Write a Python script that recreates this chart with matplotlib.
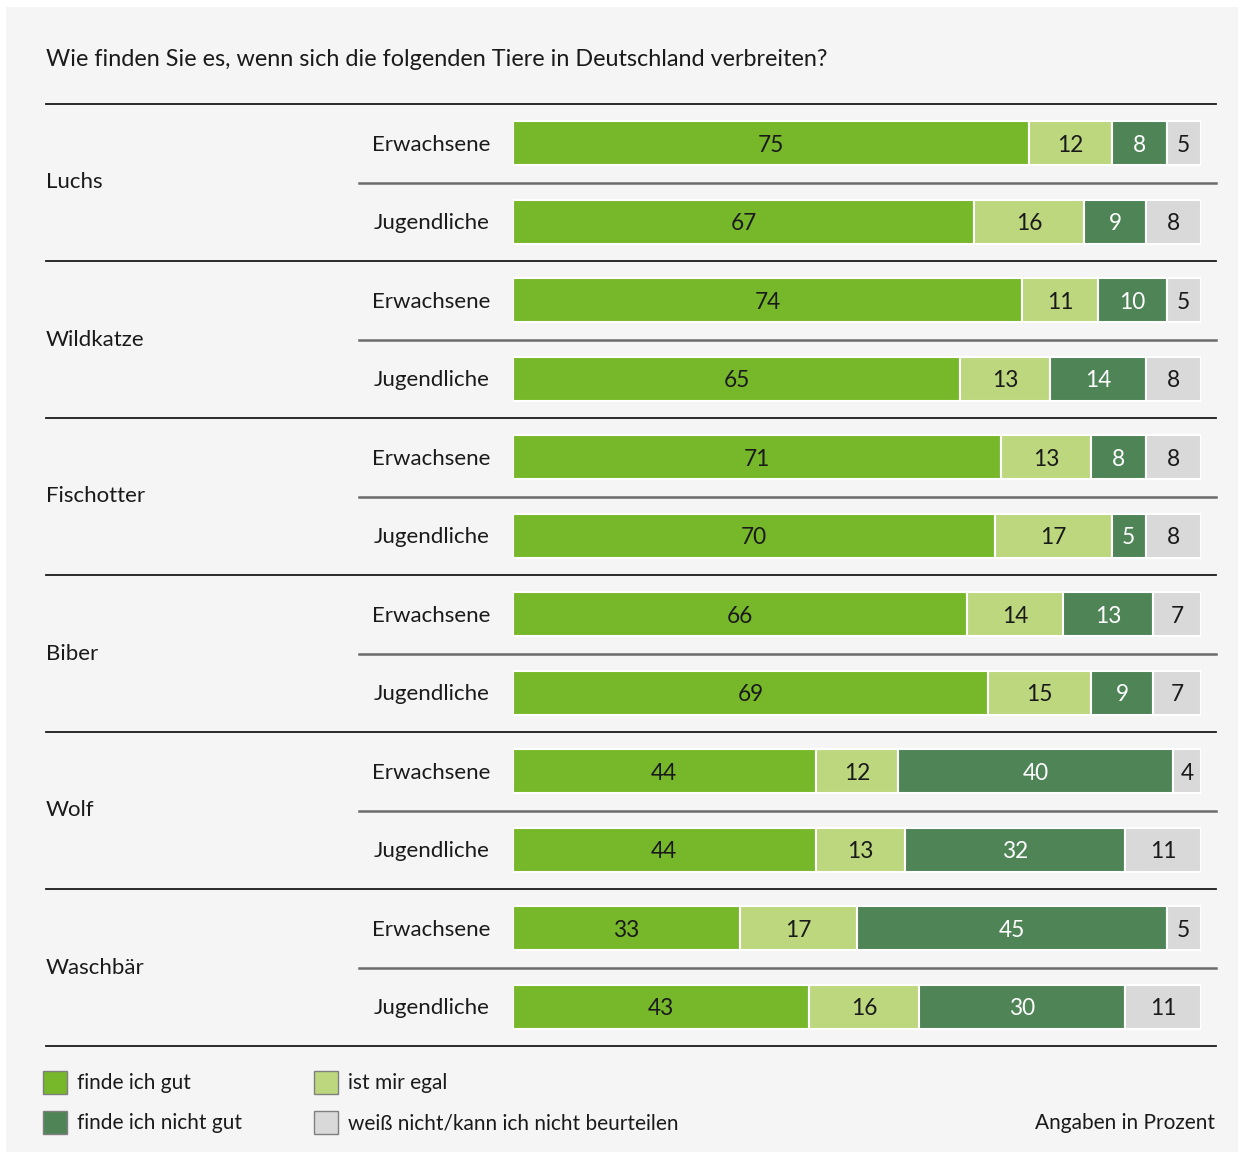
import matplotlib
matplotlib.use("Agg")
import matplotlib.pyplot as plt
from matplotlib.patches import Rectangle
from matplotlib.transforms import blended_transform_factory

# ---- data ----
animals = ["Luchs", "Wildkatze", "Fischotter", "Biber", "Wolf", "Waschbär"]
groups = ["Erwachsene", "Jugendliche"]
gut = [75, 67, 74, 65, 71, 70, 66, 69, 44, 44, 33, 43]
egal = [12, 16, 11, 13, 13, 17, 14, 15, 12, 13, 17, 16]
nicht_gut = [8, 9, 10, 14, 8, 5, 13, 9, 40, 32, 45, 30]
weiss = [5, 8, 5, 8, 8, 8, 7, 7, 4, 11, 5, 11]
series_names = ["finde ich gut", "ist mir egal", "finde ich nicht gut",
                "weiß nicht/kann ich nicht beurteilen"]
title = "Wie finden Sie es, wenn sich die folgenden Tiere in Deutschland verbreiten?"
note = "Angaben in Prozent"

colors = ["#77b82a", "#bdd77e", "#4e8456", "#d9d9d9"]
text_colors = ["#1a1a1a", "#1a1a1a", "#ffffff", "#1a1a1a"]
FONT = "Lato"
FS_LABEL = 16
FS_TITLE = 16.8
FS_VAL = 16.3
FS_LEG = 15
TXT = "#1a1a1a"

W, H = 1243, 1153
fig = plt.figure(figsize=(W / 100, H / 100), dpi=100)
fig.patch.set_facecolor("white")


def fx(px):
    return px / W


def fy(py):
    return 1 - py / H


# background panel
fig.patches.append(Rectangle((fx(6), fy(1152)), fx(1238) - fx(6), fy(7) - fy(1152),
                             transform=fig.transFigure, facecolor="#f5f5f5",
                             edgecolor="none", zorder=-10))

ax = fig.add_axes([fx(513), fy(1046), 688 / W, 942 / H])
ax.set_xlim(0, 100)
ax.set_ylim(12, 0)
ax.axis("off")

series = [gut, egal, nicht_gut, weiss]
n = len(gut)
ys = [i + 0.5 for i in range(n)]
left = [0.0] * n
for s, vals in enumerate(series):
    ax.barh(ys, vals, left=left, height=0.56, color=colors[s],
            edgecolor="white", linewidth=1.5, zorder=2)
    for i, v in enumerate(vals):
        ax.text(left[i] + v / 2, ys[i] + 0.025, str(v), ha="center", va="center",
                color=text_colors[s], fontsize=FS_VAL, family=FONT, zorder=3)
    left = [l + v for l, v in zip(left, vals)]

blend = blended_transform_factory(fig.transFigure, ax.transData)

# separator lines
x0_major = (46 - 513) / 688
x0_minor = (359 - 513) / 688
x1 = (1216 - 513) / 688
for k in range(0, 13, 2):
    ax.axhline(k, xmin=x0_major, xmax=x1, color="#1a1a1a", lw=1.3, clip_on=False, zorder=1)
for k in range(1, 12, 2):
    ax.axhline(k, xmin=x0_minor, xmax=x1, color="#6b6b6b", lw=1.8, clip_on=False, zorder=1)

# labels
for a, name in enumerate(animals):
    ax.text(fx(46), 2 * a + 1, name, transform=blend, ha="left", va="center",
            fontsize=FS_LABEL, family=FONT, color=TXT)
    for g, gname in enumerate(groups):
        ax.text(fx(490), 2 * a + g + 0.5 + 0.02, gname, transform=blend, ha="right",
                va="center", fontsize=FS_LABEL, family=FONT, color=TXT)

fig.text(fx(46), fy(60), title, ha="left", va="center", fontsize=FS_TITLE,
         family=FONT, color=TXT)

# legend
leg_pos = [(43, 1082), (314, 1082), (43, 1122), (314, 1122)]
for s, (px, py) in enumerate(leg_pos):
    fig.patches.append(Rectangle((fx(px), fy(py + 11.5)), 24 / W, 23 / H,
                                 transform=fig.transFigure, facecolor=colors[s],
                                 edgecolor="#7f7f7f", linewidth=1.0))
    fig.text(fx(px + 34), fy(py + 1), series_names[s], ha="left", va="center",
             fontsize=FS_LEG, family=FONT, color=TXT)

fig.text(fx(1215), fy(1123), note, ha="right", va="center", fontsize=FS_LEG,
         family=FONT, color=TXT)

fig.savefig("out.png", dpi=100, facecolor=fig.get_facecolor())
